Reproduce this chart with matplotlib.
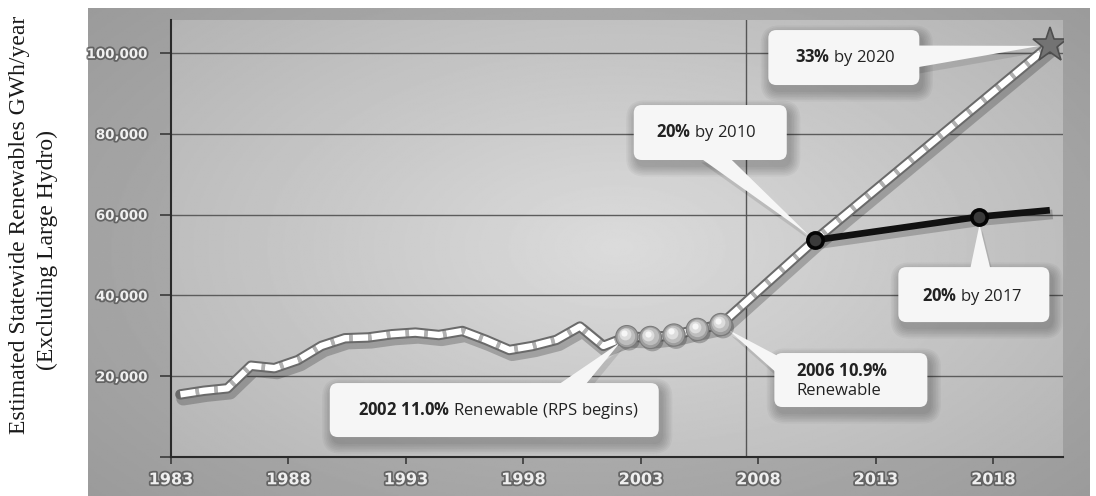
import numpy as np
import matplotlib
matplotlib.use("Agg")
import matplotlib.pyplot as plt
from matplotlib.patches import FancyBboxPatch, Polygon
from matplotlib.transforms import IdentityTransform, ScaledTranslation
from matplotlib import patheffects as pe

# ---------------- data ----------------
hist_years = list(range(1983, 2007))
hist_gwh = [15500, 16400, 17000, 22600, 22000, 24000, 27500, 29400, 29600, 30400,
            30800, 30200, 31200, 29000, 26500, 27500, 29000, 32300, 27500, 29800,
            29600, 30200, 31600, 32800]
rps_years = [2002, 2003, 2004, 2005, 2006]

target_years = [2006, 2010, 2020]
target_gwh = [32800, 53700, 102000]

forecast_years = [2010, 2017, 2020]
forecast_gwh = [53700, 59500, 61100]
forecast_marked = [2010, 2017]

xtick_years = [1983, 1988, 1993, 1998, 2003, 2008, 2013, 2018]
ytick_values = [0, 20000, 40000, 60000, 80000, 100000]
ytick_labels = ["", "20,000", "40,000", "60,000", "80,000", "100,000"]
divider_year = 2007.45

YEAR_SHIFT = 0.4  # annual values sit mid-year

plt.rcParams["mathtext.fontset"] = "custom"
plt.rcParams["mathtext.rm"] = "Open Sans"
plt.rcParams["mathtext.bf"] = "Open Sans:bold"
plt.rcParams["mathtext.it"] = "Open Sans:italic"

W, H = 1096, 496
fig = plt.figure(figsize=(W / 100, H / 100), dpi=100, facecolor="white")

# ---------- backdrop panel ----------
bg = fig.add_axes([88 / W, 0, (1090 - 88) / W, 488 / H])
bg.set_axis_off()
yy, xx = np.mgrid[0:1:300j, 0:1:600j]
r = np.sqrt(((xx - 0.5) / 0.7) ** 2 + ((yy - 0.5) / 0.8) ** 2)
bg.imshow(0.74 - 0.14 * r, cmap="gray", vmin=0, vmax=1, extent=(0, 1, 0, 1),
          aspect="auto", origin="lower")

# ---------- main axes ----------
ax = fig.add_axes([171 / W, 39 / H, 892 / W, 437 / H])
r2 = np.sqrt(((xx - 0.5) / 0.65) ** 2 + ((yy - 0.48) / 0.75) ** 2)
ax.imshow(0.86 - 0.15 * r2, cmap="gray", vmin=0, vmax=1, extent=(0, 1, 0, 1),
          aspect="auto", origin="lower", transform=ax.transAxes, zorder=0)
ax.set_xlim(1983, 2020.96)
ax.set_ylim(0, 108200)
ax.set_autoscale_on(False)
ax.set_facecolor("none")

for s in ("top", "right"):
    ax.spines[s].set_visible(False)
for s in ("left", "bottom"):
    ax.spines[s].set_color("#2a2a2a")
    ax.spines[s].set_linewidth(1.5)
    ax.spines[s].set_zorder(2)

ax.set_yticks(ytick_values)
ax.set_yticklabels(ytick_labels)
ax.set_xticks(xtick_years)
ax.set_xticklabels([str(y) for y in xtick_years])
ax.yaxis.grid(True, color="#5c5c5c", lw=1.0, zorder=1)
ax.set_axisbelow(True)
ax.tick_params(axis="y", length=8, width=1.2, color="#3a3a3a", pad=9)
ax.tick_params(axis="x", length=5, width=1.2, color="#3a3a3a", pad=6)

glow = [pe.Stroke(linewidth=2.6, foreground="#4a4a4a", alpha=0.7), pe.Normal()]
for lab in ax.get_yticklabels():
    lab.set_fontsize(9.6)
    lab.set_fontweight("bold")
    lab.set_color("#efefef")
    lab.set_path_effects(glow)
for lab in ax.get_xticklabels():
    lab.set_fontsize(11.5)
    lab.set_fontweight("bold")
    lab.set_color("#efefef")
    lab.set_path_effects(glow)

ax.axvline(divider_year, color="#555555", lw=1.0, zorder=1)

# ---------- renewable generation line (history + target path) ----------
hx = [y + YEAR_SHIFT for y in hist_years]
tx = [y + YEAR_SHIFT for y in target_years]
path_x = hx + tx[1:]
path_y = hist_gwh + target_gwh[1:]

ax.plot(path_x, path_y, color="#6a6a6a", lw=7.5, solid_joinstyle="round",
        solid_capstyle="round", zorder=3,
        path_effects=[pe.SimpleLineShadow(offset=(2, -3), shadow_color="k",
                                          alpha=0.22, linewidth=10), pe.Normal()])
ax.plot(path_x, path_y, color="white", lw=4.6, linestyle=(0, (2.4, 0.55)),
        gapcolor="#b0b0b0", solid_joinstyle="round", zorder=4)

# forecast line
fx = [y + YEAR_SHIFT for y in forecast_years]
ax.plot(fx, forecast_gwh, color="#111111", lw=4.8, solid_capstyle="butt", zorder=5,
        path_effects=[pe.SimpleLineShadow(offset=(2, -3), shadow_color="k",
                                          alpha=0.2, linewidth=7), pe.Normal()])
mk_x = [y + YEAR_SHIFT for y in forecast_marked]
mk_y = [forecast_gwh[forecast_years.index(y)] for y in forecast_marked]
ax.plot(mk_x, mk_y, "o", ms=11, mfc="#3a3a3a", mec="#050505", mew=2.6, zorder=9)

# target star
ax.plot([tx[-1]], [target_gwh[-1]], "*", ms=26, mfc="#737373", mec="#4e4e4e",
        mew=1.2, zorder=9)


def shifted(dx, dy):
    return ax.transData + ScaledTranslation(dx / 72, dy / 72, fig.dpi_scale_trans)


# shaded spheres for the RPS years
bx = [y + YEAR_SHIFT for y in rps_years]
by = [hist_gwh[hist_years.index(y)] for y in rps_years]
ax.plot(bx, by, "o", ms=16, mfc="#9e9e9e", mec="#7a7a7a", mew=0.8, zorder=9,
        path_effects=[pe.SimplePatchShadow(offset=(1.5, -2), alpha=0.3), pe.Normal()])
ax.plot(bx, by, "o", ms=12.5, mfc="#bdbdbd", mec="none", zorder=9,
        transform=shifted(-0.6, 0.8))
ax.plot(bx, by, "o", ms=8.5, mfc="#dcdcdc", mec="none", zorder=9,
        transform=shifted(-1.4, 1.8))
ax.plot(bx, by, "o", ms=4.5, mfc="#f6f6f6", mec="none", zorder=9,
        transform=shifted(-2.0, 2.6))


# ---------- callouts ----------
def callout(text, anchor, center_off, size, base, tip_gap, ha="center",
            text_off=(0, 0)):
    axp = ax.transData.transform(anchor)
    cx, cy = axp[0] + center_off[0], axp[1] + center_off[1]
    w, h = size
    b1 = np.array([cx + base[0][0], cy + base[0][1]])
    b2 = np.array([cx + base[1][0], cy + base[1][1]])
    bm = (b1 + b2) / 2
    v = axp - bm
    tip = axp - v / np.hypot(*v) * tip_gap
    ident = IdentityTransform()
    # soft shadow
    for k in range(7):
        g = 1.0 + 1.6 * k
        ax.add_patch(FancyBboxPatch((cx - w / 2 + 3 - g, cy - h / 2 - 6 - g),
                                    w + 2 * g, h + 2 * g,
                                    boxstyle=f"round,pad=0,rounding_size={8 + g}",
                                    fc="black", ec="none", alpha=0.035,
                                    transform=ident, zorder=6, clip_on=False))
    sh = np.array([3, -6])
    ax.add_patch(Polygon([b1 + sh, b2 + sh, tip + sh], closed=True, fc="black",
                         ec="none", alpha=0.1, transform=ident, zorder=6,
                         clip_on=False))
    ax.add_patch(Polygon([b1, b2, tip], closed=True, fc="#f6f6f6", ec="none",
                         transform=ident, zorder=7, clip_on=False))
    ax.add_patch(FancyBboxPatch((cx - w / 2, cy - h / 2), w, h,
                                boxstyle="round,pad=0,rounding_size=8",
                                fc="#f6f6f6", ec="none", transform=ident,
                                zorder=7, clip_on=False))
    if ha == "center":
        ax.text(cx + text_off[0], cy + text_off[1], text, ha="center",
                va="center", fontsize=12, family="Open Sans", color="#222222",
                transform=ident, zorder=8)
    else:
        ax.text(cx - w / 2 + text_off[0], cy + text_off[1], text, ha="left",
                va="center", fontsize=12, family="Open Sans", color="#222222",
                linespacing=1.25, transform=ident, zorder=8)


b2002 = (2002 + YEAR_SHIFT, hist_gwh[hist_years.index(2002)])
b2006 = (2006 + YEAR_SHIFT, hist_gwh[hist_years.index(2006)])
d2010 = (2010 + YEAR_SHIFT, forecast_gwh[0])
d2017 = (2017 + YEAR_SHIFT, forecast_gwh[1])
s2020 = (2020 + YEAR_SHIFT, target_gwh[-1])

callout(r"$\mathbf{2002\ 11.0\%}$ Renewable (RPS begins)", b2002,
        (-132.6, -73.4), (329, 54), ((62, 24), (90, 24)), 9, text_off=(4, 0))
callout(r"$\mathbf{2006\ 10.9\%}$" + "\nRenewable", b2006,
        (130, -55.5), (153, 54), ((-73, 24), (-73, 6)), 9, ha="left",
        text_off=(22, -1))
callout(r"$\mathbf{20\%}$ by 2010", d2010,
        (-104.6, 107.6), (153, 55), ((-12, -24), (18, -24)), 8,
        text_off=(-4, 0))
callout(r"$\mathbf{20\%}$ by 2017", d2017,
        (-5.5, -77.9), (151, 55), ((-4, 24), (17, 24)), 8, text_off=(-2, -2))
callout(r"$\mathbf{33\%}$ by 2020", s2020,
        (-206, -12.5), (151, 55), ((72, 12), (72, -10)), 10, text_off=(1, 0))

# ---------- axis title ----------
fig.text(20 / W, 1 - 225 / H, "Estimated Statewide Renewables GWh/year",
         rotation=90, ha="center", va="center", fontsize=17,
         family="Liberation Serif", color="#1a1a1a")
fig.text(47 / W, 1 - 250 / H, "(Excluding Large Hydro)",
         rotation=90, ha="center", va="center", fontsize=17,
         family="Liberation Serif", color="#1a1a1a")

fig.savefig("out.png", dpi=100, facecolor="white")
